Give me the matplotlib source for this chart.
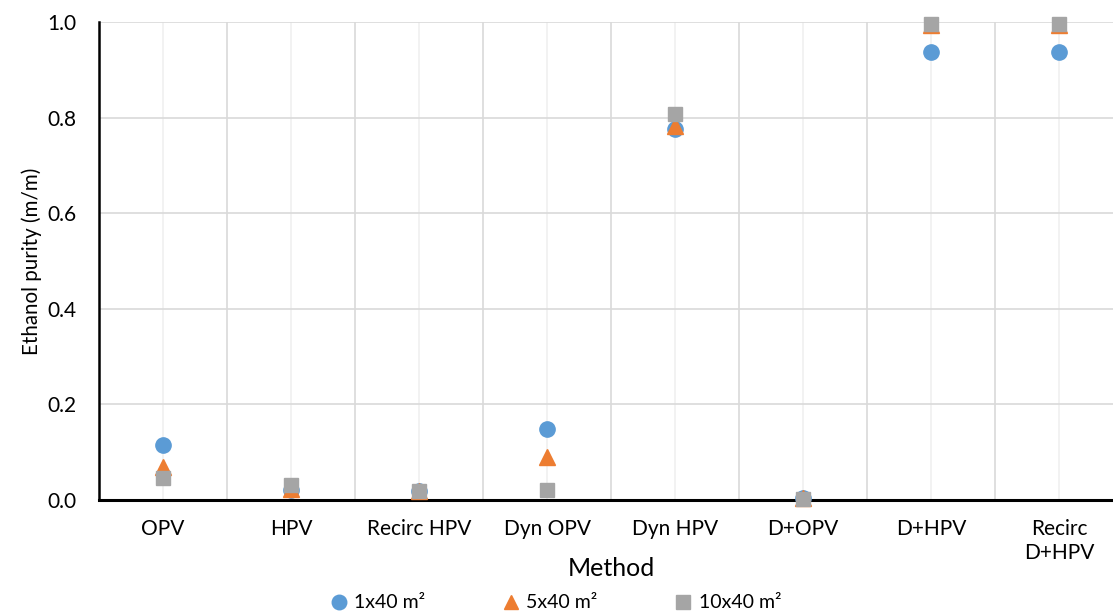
import matplotlib
matplotlib.use("Agg")
import matplotlib.pyplot as plt
import numpy as np

categories = ["OPV", "HPV", "Recirc HPV", "Dyn OPV", "Dyn HPV", "D+OPV", "D+HPV", "Recirc\nD+HPV"]
series_names = ["1x40 m²", "5x40 m²", "10x40 m²"]
s1 = [0.115, 0.020, 0.019, 0.148, 0.776, 0.005, 0.937, 0.937]
s5 = [0.070, 0.022, 0.019, 0.090, 0.782, 0.004, 0.993, 0.993]
s10 = [0.047, 0.032, 0.019, 0.020, 0.807, 0.003, 0.996, 0.996]
yticks = [0.0, 0.2, 0.4, 0.6, 0.8, 1.0]

plt.rcParams['font.family'] = ['Lato', 'DejaVu Sans']

fig = plt.figure(figsize=(11.13, 6.15), dpi=100)
ax = fig.add_axes([99/1113, 115/615, 1024/1113, 478/615])

x = np.arange(len(categories))
ax.plot(x, s1, linestyle='none', marker='o', markersize=11, color='#5b9bd5', label=series_names[0], zorder=3, clip_on=False)
ax.plot(x, s5, linestyle='none', marker='^', markersize=11, color='#ed7d31', label=series_names[1], zorder=4, clip_on=False)
ax.plot(x, s10, linestyle='none', marker='s', markersize=10.5, color='#a5a5a5', label=series_names[2], zorder=5, clip_on=False)

ax.set_xlim(-0.5, len(categories) - 0.5)
ax.set_ylim(0, 1.0)
ax.set_yticks(yticks)
ax.set_yticklabels([f"{v:.1f}" for v in yticks])
ax.set_xticks(x)
ax.set_xticklabels(categories)
ax.set_xticks(np.arange(-0.5, len(categories), 1.0), minor=True)

ax.grid(axis='y', which='major', color='#d9d9d9', linewidth=1.2, zorder=0)
ax.grid(axis='x', which='major', color='#f0f0f0', linewidth=1.2, zorder=0)
ax.grid(axis='x', which='minor', color='#d9d9d9', linewidth=1.2, zorder=0)
ax.set_axisbelow(True)

for side in ['top', 'right']:
    ax.spines[side].set_visible(False)
ax.spines['left'].set_color('black')
ax.spines['left'].set_linewidth(1.8)
ax.spines['bottom'].set_color('black')
ax.spines['bottom'].set_linewidth(2.2)

ax.tick_params(axis='both', which='both', length=0, labelsize=15, colors='#000000')
ax.tick_params(axis='x', pad=14)
ax.tick_params(axis='y', pad=16)

ax.set_xlabel("Method", fontsize=18, labelpad=-4)
ax.set_ylabel("Ethanol purity (m/m)", fontsize=14.8, labelpad=4)

fig.legend(loc='center', bbox_to_anchor=(555/1113, 1 - 603/615), ncol=3, frameon=False,
           fontsize=14, handlelength=1.0, handletextpad=0.3, columnspacing=3.9, markerscale=0.95,
           borderpad=0.0)

fig.savefig("out.png", dpi=100)
